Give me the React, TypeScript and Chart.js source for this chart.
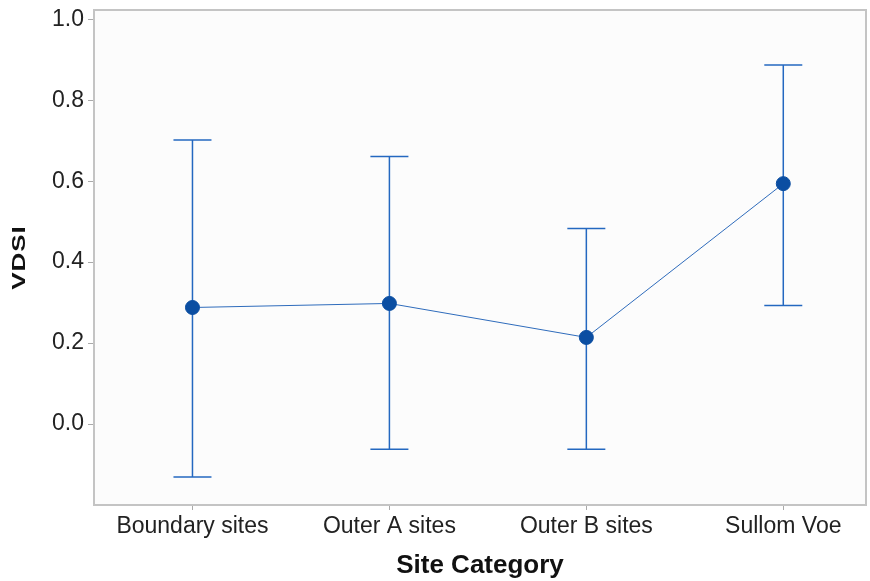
import React, { useEffect, useRef } from "react";
import { Chart, registerables } from "chart.js";

Chart.register(...registerables);

const categories = ["Boundary sites", "Outer A sites", "Outer B sites", "Sullom Voe"];
const means = [0.288, 0.298, 0.214, 0.594];
const upper = [0.702, 0.661, 0.483, 0.887];
const lower = [-0.131, -0.062, -0.062, 0.293];
const yTicks = [0, 0.2, 0.4, 0.6, 0.8, 1.0];
const yTitle = "VDSI";
const xTitle = "Site Category";

const errorBarPlugin = {
  id: "errorBars",
  beforeDatasetsDraw(chart: any) {
    const { ctx, scales } = chart;
    const xs = scales.x;
    const ys = scales.y;
    ctx.save();
    ctx.strokeStyle = "#2468c0";
    ctx.lineWidth = 1.5;
    categories.forEach((_, i) => {
      const x = xs.getPixelForValue(i);
      const yt = ys.getPixelForValue(upper[i]);
      const yb = ys.getPixelForValue(lower[i]);
      ctx.beginPath();
      ctx.moveTo(x, yt);
      ctx.lineTo(x, yb);
      ctx.moveTo(x - 19, yt);
      ctx.lineTo(x + 19, yt);
      ctx.moveTo(x - 19, yb);
      ctx.lineTo(x + 19, yb);
      ctx.stroke();
    });
    ctx.restore();
  },
};

const framePlugin = {
  id: "frame",
  beforeDraw(chart: any) {
    const { ctx, chartArea } = chart;
    ctx.save();
    ctx.fillStyle = "#ffffff";
    ctx.fillRect(0, 0, chart.width, chart.height);
    ctx.fillStyle = "#fcfcfc";
    ctx.fillRect(chartArea.left, chartArea.top, chartArea.right - chartArea.left, chartArea.bottom - chartArea.top);
    ctx.restore();
  },
  afterDraw(chart: any) {
    const { ctx, chartArea } = chart;
    ctx.save();
    ctx.strokeStyle = "#c4c4c4";
    ctx.lineWidth = 2;
    ctx.strokeRect(chartArea.left, chartArea.top, chartArea.right - chartArea.left, chartArea.bottom - chartArea.top);
    // y-axis title, drawn rotated and slightly condensed like the reference
    const cy = (chartArea.top + chartArea.bottom) / 2;
    ctx.translate(20, cy);
    ctx.rotate(-Math.PI / 2);
    ctx.scale(1, 0.7);
    ctx.font = "bold 26px 'Liberation Sans', Arial, sans-serif";
    (ctx as any).letterSpacing = "1px";
    ctx.fillStyle = "#111";
    ctx.textAlign = "center";
    ctx.textBaseline = "middle";
    ctx.fillText(yTitle, 0, 0);
    ctx.restore();
  },
};

export default function App() {
  const ref = useRef<HTMLCanvasElement>(null);
  useEffect(() => {
    if (!ref.current) return;
    Chart.defaults.font.family = "'Liberation Sans', Arial, sans-serif";
    const chart = new Chart(ref.current, {
      type: "line",
      data: {
        datasets: [
          {
            data: means.map((m, i) => ({ x: i, y: m })),
            borderColor: "#2f6cbc",
            borderWidth: 1,
            pointBackgroundColor: "#0b4ea2",
            pointBorderColor: "#0b4ea2",
            pointRadius: 7,
            fill: false,
            tension: 0,
          },
        ],
      },
      options: {
        animation: false,
        responsive: false,
        layout: { autoPadding: false, padding: { top: 10, right: 4, left: 0, bottom: 0 } },
        plugins: { legend: { display: false }, tooltip: { enabled: false } },
        scales: {
          x: {
            type: "linear",
            min: -0.5,
            max: 3.42,
            afterBuildTicks: (s: any) => {
              s.ticks = categories.map((_, i) => ({ value: i }));
            },
            afterFit: (s: any) => {
              s.height = 76;
              s.paddingLeft = 0;
              s.paddingRight = 0;
            },
            ticks: {
              callback: (v: any) => categories[v] ?? "",
              color: "#222",
              font: { size: 23 },
              padding: 3,
              maxRotation: 0,
              autoSkip: false,
            },
            grid: { display: true, drawOnChartArea: false, drawTicks: true, tickLength: 5, color: "#aaaaaa" },
            border: { display: false },
            title: {
              display: true,
              text: xTitle,
              color: "#111",
              font: { size: 26, weight: "bold" },
              padding: { top: 4, bottom: 0 },
            },
          },
          y: {
            type: "linear",
            min: -0.2,
            max: 1.023,
            afterBuildTicks: (s: any) => {
              s.ticks = yTicks.map((v) => ({ value: v }));
            },
            afterFit: (s: any) => {
              s.width = 94;
              s.paddingTop = 0;
              s.paddingBottom = 0;
            },
            ticks: {
              callback: (v: any) => Number(v).toFixed(1),
              color: "#222",
              font: { size: 23 },
              padding: 4,
            },
            grid: { display: true, drawOnChartArea: false, drawTicks: true, tickLength: 6, color: "#aaaaaa" },
            border: { display: false },
            title: { display: false },
          },
        },
      },
      plugins: [framePlugin, errorBarPlugin],
    } as any);
    return () => chart.destroy();
  }, []);
  return (
    <div style={{ position: "fixed", left: 0, top: 0, width: 870, height: 581 }}>
      <canvas ref={ref} width={870} height={581} />
    </div>
  );
}
